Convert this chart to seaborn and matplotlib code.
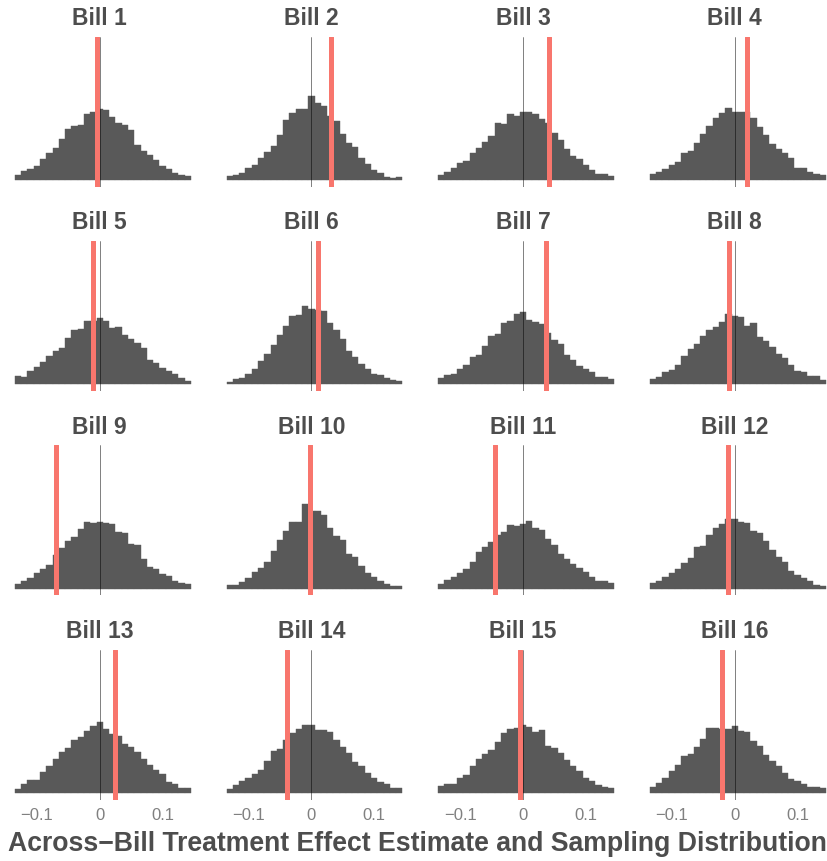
import numpy as np
import pandas as pd
import matplotlib
matplotlib.use("Agg")
import matplotlib.pyplot as plt
import seaborn as sns

# ---------------- data ----------------
bills = [f"Bill {i}" for i in range(1, 17)]
bin_lo, bin_hi, bin_w = -0.135, 0.145, 0.01
bin_centers = np.round(np.arange(-0.13, 0.1401, 0.01), 3)

# red lines: across-bill treatment effect estimates
estimates = [-0.004, 0.0306, 0.0417, 0.0202, -0.0106, 0.0106, 0.0369, -0.0088,
             -0.0696, -0.002, -0.0454, -0.0101, 0.025, -0.038, -0.0043, -0.0197]

# histogram counts of the sampling distribution (28 bins each)
bill1 = [15, 27, 33, 43, 62, 81, 96, 123, 153, 162, 165, 199, 204, 213, 211, 189, 170, 166, 150, 104, 87, 75, 60, 43, 33, 22, 15, 11]
bill2 = [12, 14, 21, 35, 46, 65, 84, 102, 135, 180, 200, 213, 213, 252, 231, 222, 193, 177, 138, 110, 100, 65, 48, 29, 22, 10, 6, 9]
bill3 = [15, 23, 36, 51, 57, 81, 96, 114, 132, 171, 168, 198, 192, 204, 204, 198, 183, 171, 141, 120, 93, 72, 63, 45, 30, 18, 18, 12]
bill4 = [18, 24, 33, 45, 54, 81, 87, 111, 138, 162, 186, 201, 216, 204, 204, 204, 186, 159, 135, 108, 93, 81, 66, 36, 36, 24, 18, 15]
bill5 = [24, 22, 39, 52, 66, 85, 99, 108, 139, 162, 165, 189, 190, 198, 189, 168, 171, 147, 135, 123, 108, 72, 63, 48, 39, 30, 18, 9]
bill6 = [7, 15, 18, 30, 47, 69, 90, 117, 147, 174, 204, 207, 234, 225, 222, 219, 183, 162, 135, 99, 81, 60, 45, 30, 27, 18, 12, 9]
bill7 = [18, 27, 30, 45, 57, 81, 87, 114, 144, 150, 183, 189, 210, 216, 192, 186, 180, 153, 132, 120, 87, 72, 54, 45, 36, 21, 21, 15]
bill8 = [15, 21, 36, 42, 57, 84, 105, 120, 144, 162, 171, 186, 210, 204, 201, 174, 183, 141, 129, 111, 90, 78, 57, 39, 36, 24, 24, 12]
bill9 = [13, 22, 33, 46, 58, 70, 100, 121, 142, 154, 178, 199, 196, 199, 196, 193, 169, 166, 133, 130, 88, 64, 58, 43, 37, 22, 16, 13]
bill10 = [10, 10, 19, 31, 49, 61, 80, 112, 145, 172, 199, 199, 253, 234, 234, 220, 181, 157, 145, 103, 94, 67, 46, 34, 22, 13, 7, 7]
bill11 = [13, 25, 34, 46, 58, 79, 109, 124, 139, 160, 169, 190, 187, 193, 202, 181, 175, 148, 130, 103, 88, 73, 61, 49, 34, 22, 22, 16]
bill12 = [16, 22, 34, 46, 58, 76, 91, 124, 127, 160, 181, 193, 208, 208, 199, 196, 172, 166, 142, 115, 94, 79, 52, 40, 31, 22, 10, 7]
bill13 = [13, 27, 39, 39, 62, 80, 101, 122, 134, 158, 167, 185, 200, 212, 191, 176, 170, 146, 137, 122, 101, 83, 68, 56, 32, 26, 14, 14]
bill14 = [13, 23, 35, 44, 58, 68, 97, 125, 131, 158, 179, 191, 203, 203, 188, 188, 182, 158, 137, 119, 92, 80, 59, 44, 32, 26, 14, 14]
bill15 = [20, 26, 26, 44, 53, 80, 101, 116, 128, 152, 179, 191, 194, 203, 197, 182, 188, 140, 134, 119, 98, 80, 65, 44, 35, 23, 17, 14]
bill16 = [17, 29, 44, 65, 83, 110, 116, 137, 161, 194, 194, 191, 191, 200, 185, 182, 155, 140, 113, 95, 80, 59, 41, 35, 26, 17, 17, 14]
counts = [bill1, bill2, bill3, bill4, bill5, bill6, bill7, bill8,
          bill9, bill10, bill11, bill12, bill13, bill14, bill15, bill16]

xtick_vals = [-0.1, 0, 0.1]
xtick_labels = ["\u22120.1", "0", "0.1"]
xlabel = "Across\u2212Bill Treatment Effect Estimate and Sampling Distribution"

# ---------------- style ----------------
sns.set_theme(style="white")
plt.rcParams["font.family"] = ["Liberation Sans", "DejaVu Sans"]

BAR = "#595959"
RED = "#F8766D"
TITLE_C = "#4D4D4D"
TICK_C = "#808080"

W, H = 828, 861
fig = plt.figure(figsize=(W / 100, H / 100), dpi=100)
fig.patch.set_facecolor("white")

pw, ph = 188.5, 150.0
for i in range(16):
    r, c = divmod(i, 4)
    cx = 99.7 + 211.67 * c
    x0 = cx - pw / 2
    y0 = 36.7 + 204.3 * r
    ax = fig.add_axes([x0 / W, 1 - (y0 + ph) / H, pw / W, ph / H])
    df = pd.DataFrame({"estimate": bin_centers, "n": counts[i]})
    sns.histplot(data=df, x="estimate", weights="n", binwidth=bin_w,
                 binrange=(bin_lo, bin_hi), ax=ax,
                 color=BAR, alpha=1, edgecolor=BAR, linewidth=0.3)
    ax.axvline(0, color="black", lw=0.5, alpha=0.7, zorder=3)
    ax.axvline(estimates[i], color=RED, lw=3.6, zorder=4)
    ax.set_xlim(-0.15, 0.15)
    ax.set_ylim(-20, 430)
    ax.set_yticks([])
    ax.set_ylabel("")
    ax.set_xlabel("")
    for s in ax.spines.values():
        s.set_visible(False)
    ax.set_xticks(xtick_vals)
    if r == 3:
        ax.set_xticklabels(xtick_labels)
        ax.tick_params(axis="x", length=0, pad=6, labelsize=12, labelcolor=TICK_C)
    else:
        ax.tick_params(axis="x", length=0, labelbottom=False)
    ax.set_title(bills[i], fontsize=16.5, fontweight="bold", color=TITLE_C, pad=8.4)
    ax.set_facecolor("white")

fig.text(417 / W, 1 - 844 / H, xlabel, ha="center", va="center",
         fontsize=19.2, fontweight="bold", color=TITLE_C)

fig.savefig("out.png", dpi=100, facecolor="white")
